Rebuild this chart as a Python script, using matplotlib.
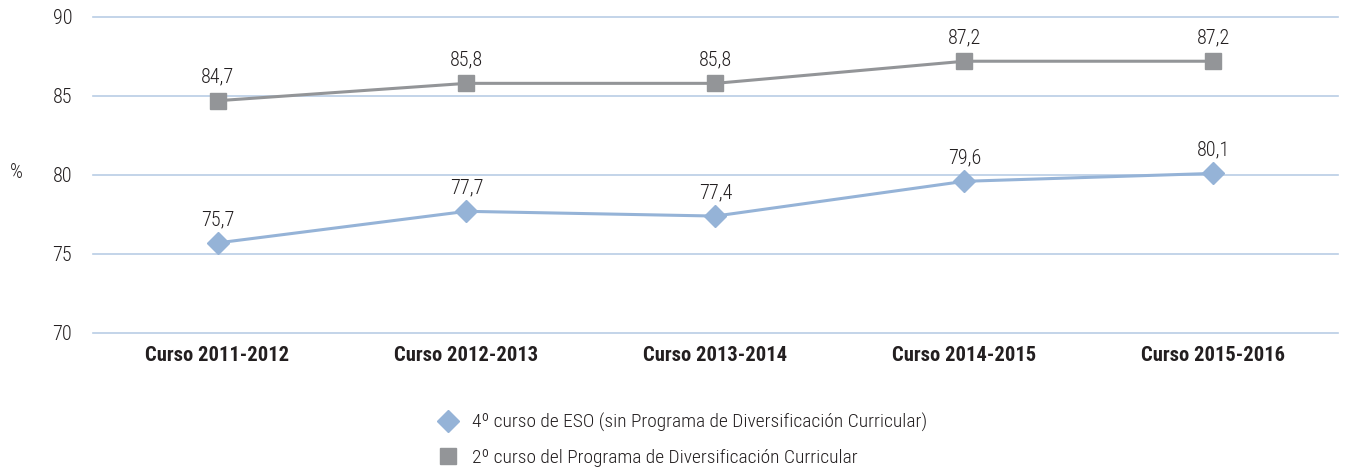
import matplotlib
matplotlib.use("Agg")
import matplotlib.pyplot as plt
from matplotlib.lines import Line2D

# Data
categories = ["Curso 2011-2012", "Curso 2012-2013", "Curso 2013-2014",
              "Curso 2014-2015", "Curso 2015-2016"]
eso4 = [75.7, 77.7, 77.4, 79.6, 80.1]
pdc2 = [84.7, 85.8, 85.8, 87.2, 87.2]
series_names = ["4º curso de ESO (sin Programa de Diversificación Curricular)",
                "2º curso del Programa de Diversificación Curricular"]
yticks = [70, 75, 80, 85, 90]

plt.rcParams["font.family"] = ["Roboto Condensed", "Archivo Narrow",
                               "IBM Plex Sans Condensed", "DejaVu Sans"]
plt.rcParams["font.weight"] = "light"

BLUE = "#95b3d7"
GRAY = "#939598"
GRID = "#b9cde5"
TEXT = "#231f20"

fig = plt.figure(figsize=(13.46, 4.68), dpi=100)
ax = fig.add_axes([0.0691, 0.2885, 0.9249, 0.6752])

x = list(range(len(categories)))
ax.plot(x, pdc2, color=GRAY, lw=2.2, marker="s", ms=11.5, zorder=3)
ax.plot(x, eso4, color=BLUE, lw=2.2, marker="D", ms=11, zorder=3)

for series in (pdc2, eso4):
    for xi, v in zip(x, series):
        ax.annotate(f"{v:.1f}".replace(".", ","), (xi, v), xytext=(0, 10),
                    textcoords="offset points", ha="center", va="bottom",
                    fontsize=14.5, color=TEXT)

ax.set_xlim(-0.5, len(categories) - 0.5)
ax.set_ylim(70, 90)
ax.set_yticks(yticks)
ax.set_yticklabels([str(t) for t in yticks], fontsize=14.5, color=TEXT)
ax.set_xticks(x)
ax.set_xticklabels(categories, fontsize=14.8, fontweight="bold", color=TEXT)
ax.tick_params(length=0, pad=9.5)
ax.tick_params(axis="y", pad=15)
for t in yticks:
    ax.axhline(t, color=GRID, lw=1.2, zorder=0, clip_on=False)
for s in ax.spines.values():
    s.set_visible(False)

fig.text(0.012, 0.632, "%", fontsize=14.5, color=TEXT, ha="center", va="center")

handles = [Line2D([], [], ls="none", marker="D", ms=11, color=BLUE),
           Line2D([], [], ls="none", marker="s", ms=11.5, color=GRAY)]
fig.legend(handles, series_names, loc="upper left", bbox_to_anchor=(0.326, 0.117),
           frameon=False, fontsize=14, labelcolor=TEXT, handlelength=0.9,
           handletextpad=0.8, labelspacing=0.85, borderaxespad=0, borderpad=0)

fig.savefig("out.png", dpi=100)
